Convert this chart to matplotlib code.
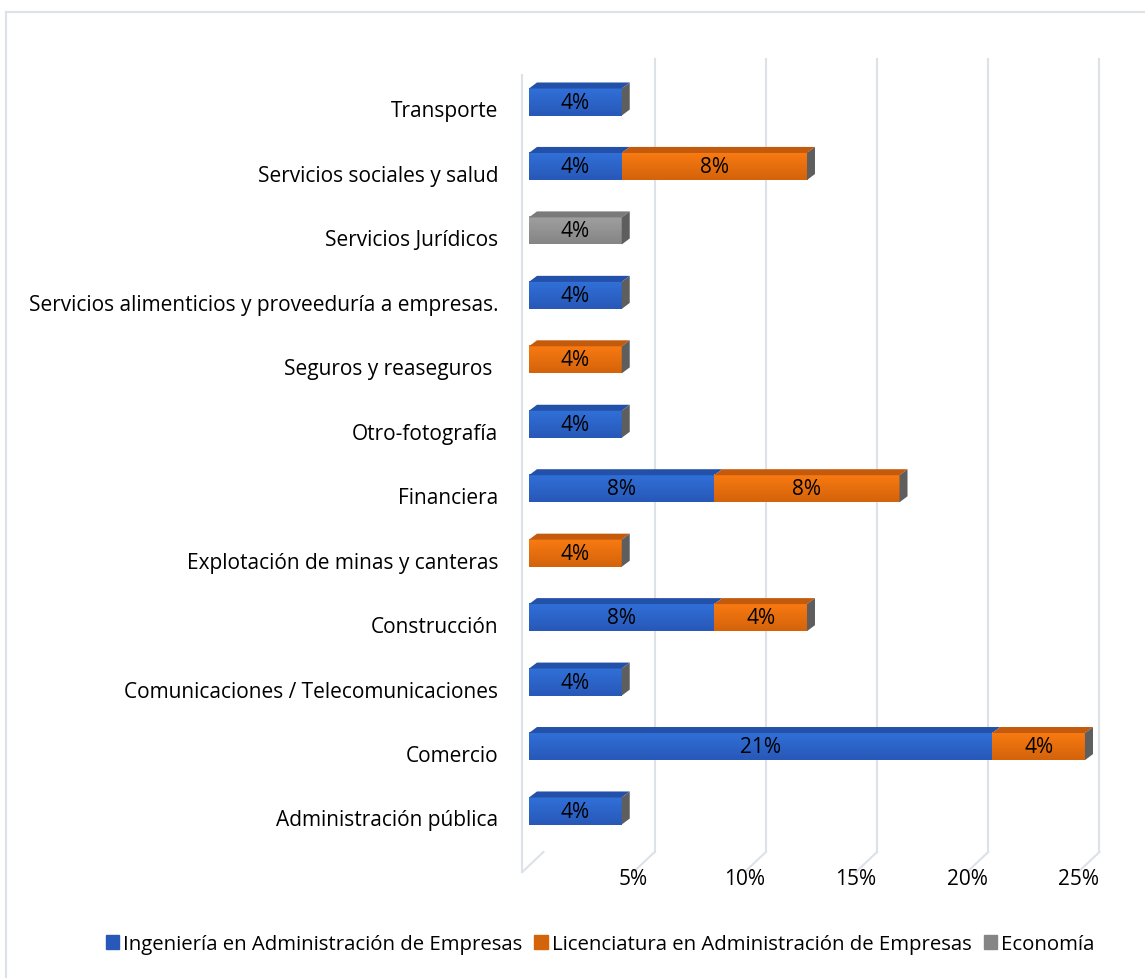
import numpy as np
import matplotlib
matplotlib.use("Agg")
import matplotlib.pyplot as plt
from matplotlib.patches import Polygon, Rectangle
from matplotlib.lines import Line2D
from matplotlib.colors import to_rgb

# === DATA (percent) ===
categories = [
    "Administración pública",
    "Comercio",
    "Comunicaciones / Telecomunicaciones",
    "Construcción",
    "Explotación de minas y canteras",
    "Financiera",
    "Otro-fotografía",
    "Seguros y reaseguros ",
    "Servicios alimenticios y proveeduría a empresas.",
    "Servicios Jurídicos",
    "Servicios sociales y salud",
    "Transporte",
]
ingenieria = [4.17, 20.83, 4.17, 8.33, 0, 8.33, 4.17, 0, 4.17, 0, 4.17, 4.17]
licenciatura = [0, 4.17, 0, 4.17, 4.17, 8.33, 0, 4.17, 0, 0, 8.33, 0]
economia = [0, 0, 0, 0, 0, 0, 0, 0, 0, 4.17, 0, 0]
series_names = ["Ingeniería en Administración de Empresas",
                "Licenciatura en Administración de Empresas",
                "Economía"]
tick_vals = [5, 10, 15, 20, 25]
tick_labels = ["5%", "10%", "15%", "20%", "25%"]

# === STYLE ===
FONT = "Open Sans"
FS = 15
front_cols = ["#3070D8", "#F97A12", "#A0A0A0"]     # upper part of the front face
bottom_cols = ["#2858B8", "#D4630A", "#858585"]    # lower part of the front face
top_cols = ["#2350A8", "#C45A0C", "#7A7A7A"]
side_col = "#5E5E5E"
grid_col = "#DDE1E8"
BAR_H = 0.42
DX, DY = 0.36, 0.093        # bar depth offset
BACK = 0.65                 # back wall offset
FLOOR_X, FLOOR_Y = -0.30, -0.31
XLIM = (-1.079, 26.35)
YLIM = (-1.055, 11.745)

plt.rcParams["font.family"] = [FONT, "DejaVu Sans"]

fig = plt.figure(figsize=(11.45, 9.79), dpi=100)
ax = fig.add_axes([505 / 1145, 1 - 880 / 979, 610 / 1145, 825 / 979])
for s in ax.spines.values():
    s.set_visible(False)
ax.set_xticks([])

y = np.arange(len(categories))
y_top, y_back_bot = 11.67, -0.636
y_front_bot = y_back_bot + FLOOR_Y

# gridlines on back wall + floor
for v in tick_vals:
    ax.add_line(Line2D([v + BACK, v + BACK], [y_back_bot, y_top], color=grid_col, lw=1.5, zorder=0))
    ax.add_line(Line2D([v + BACK, v + FLOOR_X], [y_back_bot, y_front_bot], color=grid_col, lw=1.5, zorder=0))
# left wall
ax.add_line(Line2D([FLOOR_X, FLOOR_X], [y_front_bot, y_top - 0.25], color=grid_col, lw=1.5, zorder=0))
ax.add_line(Line2D([BACK, FLOOR_X], [y_back_bot, y_front_bot], color=grid_col, lw=1.5, zorder=0))

# bars with 3D faces
series = [ingenieria, licenciatura, economia]
left = np.zeros(len(categories))
for k, vals in enumerate(series):
    vals = np.array(vals)
    c_top, c_bot = np.array(to_rgb(front_cols[k])), np.array(to_rgb(bottom_cols[k]))
    t = np.linspace(0, 1, 32)[:, None]
    grad = (c_top * (1 - t) + c_bot * t)[:, None, :]
    for i, v in enumerate(vals):
        if v <= 0:
            continue
        x0, x1 = left[i], left[i] + v
        yt, yb = y[i] + BAR_H / 2, y[i] - BAR_H / 2
        ax.imshow(grad, extent=(x0, x1, yb, yt), origin="upper", aspect="auto",
                  interpolation="bilinear", zorder=3)
        ax.add_patch(Polygon([(x0, yt), (x0 + DX, yt + DY), (x1 + DX, yt + DY), (x1, yt)],
                             closed=True, color=top_cols[k], zorder=3, lw=0))
        ax.text((x0 + x1) / 2, y[i], f"{v:.0f}%", ha="center", va="center",
                fontsize=FS, color="black", zorder=5)
    left = left + vals

# right end face (dark) on each bar
for i in range(len(categories)):
    x1 = left[i]
    yt, yb = y[i] + BAR_H / 2, y[i] - BAR_H / 2
    ax.add_patch(Polygon([(x1, yb), (x1, yt), (x1 + DX, yt + DY), (x1 + DX, yb + DY)],
                         closed=True, color=side_col, zorder=4, lw=0))

ax.set_xlim(*XLIM)
ax.set_ylim(*YLIM)
ax.set_yticks(y - 0.1)
ax.set_yticklabels(categories, fontsize=FS)
ax.tick_params(axis="y", length=0, pad=5)

# value axis labels at floor front
for v, lab in zip(tick_vals, tick_labels):
    ax.text(v + FLOOR_X, -1.055, lab, ha="center", va="center", fontsize=FS, clip_on=False)

# legend
handles = [Rectangle((0, 0), 1, 1, color=c) for c in bottom_cols]
fig.legend(handles, series_names, loc="center", bbox_to_anchor=(600 / 1145, 1 - 945 / 979),
           ncol=3, frameon=False, fontsize=14.7, handlelength=0.65, handleheight=0.65,
           handletextpad=0.2, columnspacing=0.6)

# outer chart border
fig.add_artist(Line2D([6 / 1145, 6 / 1145], [0, 1 - 13 / 979], color=grid_col, lw=1.5, transform=fig.transFigure))
fig.add_artist(Line2D([6 / 1145, 1], [1 - 13 / 979, 1 - 13 / 979], color=grid_col, lw=1.5, transform=fig.transFigure))

fig.savefig("out.png", dpi=100, facecolor="white")
